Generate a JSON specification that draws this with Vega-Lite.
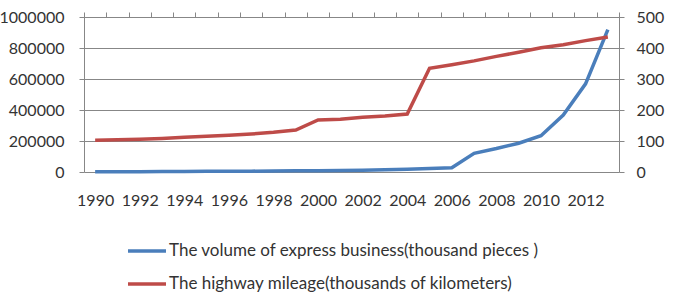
{
  "$schema": "https://vega.github.io/schema/vega-lite/v6.json",
  "width": 535,
  "height": 155,
  "autosize": "none",
  "padding": {"left": 84, "top": 17, "right": 70, "bottom": 130},
  "background": "white",
  "config": {
    "font": "Lato",
    "view": {"stroke": null},
    "axis": {
      "labelFont": "Lato",
      "labelFontSize": 16,
      "labelColor": "#333333",
      "domainColor": "#878787",
      "tickColor": "#878787",
      "gridColor": "#878787",
      "tickSize": 5,
      "title": null
    },
    "legend": {
      "labelFont": "Lato",
      "labelFontSize": 17,
      "labelColor": "#333333",
      "labelLimit": 0
    }
  },
  "data": {
    "values": [
      {"year": 1990, "series": "express", "value": 1000},
      {"year": 1991, "series": "express", "value": 1500},
      {"year": 1992, "series": "express", "value": 2000},
      {"year": 1993, "series": "express", "value": 2800},
      {"year": 1994, "series": "express", "value": 3500},
      {"year": 1995, "series": "express", "value": 4500},
      {"year": 1996, "series": "express", "value": 5000},
      {"year": 1997, "series": "express", "value": 5500},
      {"year": 1998, "series": "express", "value": 6300},
      {"year": 1999, "series": "express", "value": 7500},
      {"year": 2000, "series": "express", "value": 8500},
      {"year": 2001, "series": "express", "value": 10000},
      {"year": 2002, "series": "express", "value": 12000},
      {"year": 2003, "series": "express", "value": 14000},
      {"year": 2004, "series": "express", "value": 17000},
      {"year": 2005, "series": "express", "value": 22900},
      {"year": 2006, "series": "express", "value": 27000},
      {"year": 2007, "series": "express", "value": 120200},
      {"year": 2008, "series": "express", "value": 151300},
      {"year": 2009, "series": "express", "value": 185800},
      {"year": 2010, "series": "express", "value": 233900},
      {"year": 2011, "series": "express", "value": 367300},
      {"year": 2012, "series": "express", "value": 568500},
      {"year": 2013, "series": "express", "value": 918700},
      {"year": 1990, "series": "highway", "value": 102.8},
      {"year": 1991, "series": "highway", "value": 104.1},
      {"year": 1992, "series": "highway", "value": 105.7},
      {"year": 1993, "series": "highway", "value": 108.4},
      {"year": 1994, "series": "highway", "value": 111.8},
      {"year": 1995, "series": "highway", "value": 115.7},
      {"year": 1996, "series": "highway", "value": 118.6},
      {"year": 1997, "series": "highway", "value": 122.6},
      {"year": 1998, "series": "highway", "value": 127.9},
      {"year": 1999, "series": "highway", "value": 135.2},
      {"year": 2000, "series": "highway", "value": 168.0},
      {"year": 2001, "series": "highway", "value": 169.8},
      {"year": 2002, "series": "highway", "value": 176.5},
      {"year": 2003, "series": "highway", "value": 181.0},
      {"year": 2004, "series": "highway", "value": 187.1},
      {"year": 2005, "series": "highway", "value": 334.5},
      {"year": 2006, "series": "highway", "value": 345.7},
      {"year": 2007, "series": "highway", "value": 358.4},
      {"year": 2008, "series": "highway", "value": 373.0},
      {"year": 2009, "series": "highway", "value": 386.1},
      {"year": 2010, "series": "highway", "value": 400.8},
      {"year": 2011, "series": "highway", "value": 410.6},
      {"year": 2012, "series": "highway", "value": 423.8},
      {"year": 2013, "series": "highway", "value": 435.6}
    ]
  },
  "encoding": {
    "color": {
      "field": "series",
      "type": "nominal",
      "scale": {
        "domain": ["express", "highway"],
        "range": ["#4A7EBB", "#BE4B48"]
      },
      "legend": {
        "orient": "none",
        "legendX": 42,
        "legendY": 213,
        "direction": "vertical",
        "title": null,
        "symbolType": "stroke",
        "symbolSize": 1444,
        "symbolStrokeWidth": 3.5,
        "labelOffset": 1,
        "rowPadding": 4,
        "labelLimit": 0,
        "labelExpr": "datum.value == 'express' ? 'The volume of express business(thousand pieces )' : 'The highway mileage(thousands of kilometers)'"
      }
    }
  },
  "layer": [
    {
      "transform": [{"filter": "datum.series == 'express'"}],
      "mark": {"type": "line", "strokeWidth": 3.5},
      "encoding": {
        "x": {
          "field": "year",
          "type": "quantitative",
          "scale": {"domain": [1989.5, 2013.5], "nice": false, "zero": false},
          "axis": {
            "values": [1990, 1992, 1994, 1996, 1998, 2000, 2002, 2004, 2006, 2008, 2010, 2012],
            "format": "d",
            "ticks": false,
            "tickSize": 0,
            "domain": false,
            "grid": false,
            "labelPadding": 20,
            "labelFlush": false,
            "labelOverlap": false
          }
        },
        "y": {
          "field": "value",
          "type": "quantitative",
          "scale": {"domain": [0, 1000000], "nice": false},
          "axis": {
            "orient": "left",
            "values": [0, 200000, 400000, 600000, 800000, 1000000],
            "format": "d",
            "grid": true,
            "labelPadding": 15
          }
        }
      }
    },
    {
      "transform": [{"filter": "datum.series == 'highway'"}],
      "mark": {"type": "line", "strokeWidth": 3.5},
      "encoding": {
        "x": {
          "field": "year",
          "type": "quantitative",
          "axis": {
            "values": [1989.5, 1990.5, 1991.5, 1992.5, 1993.5, 1994.5, 1995.5, 1996.5, 1997.5, 1998.5, 1999.5, 2000.5, 2001.5, 2002.5, 2003.5, 2004.5, 2005.5, 2006.5, 2007.5, 2008.5, 2009.5, 2010.5, 2011.5, 2012.5, 2013.5],
            "labels": false,
            "ticks": true,
            "domain": true,
            "grid": false
          }
        },
        "y": {
          "field": "value",
          "type": "quantitative",
          "scale": {"domain": [0, 500], "nice": false},
          "axis": {
            "orient": "right",
            "values": [0, 100, 200, 300, 400, 500],
            "grid": false,
            "labelPadding": 12
          }
        }
      }
    }
  ],
  "resolve": {
    "scale": {"y": "independent"},
    "axis": {"x": "independent", "y": "independent"}
  }
}
